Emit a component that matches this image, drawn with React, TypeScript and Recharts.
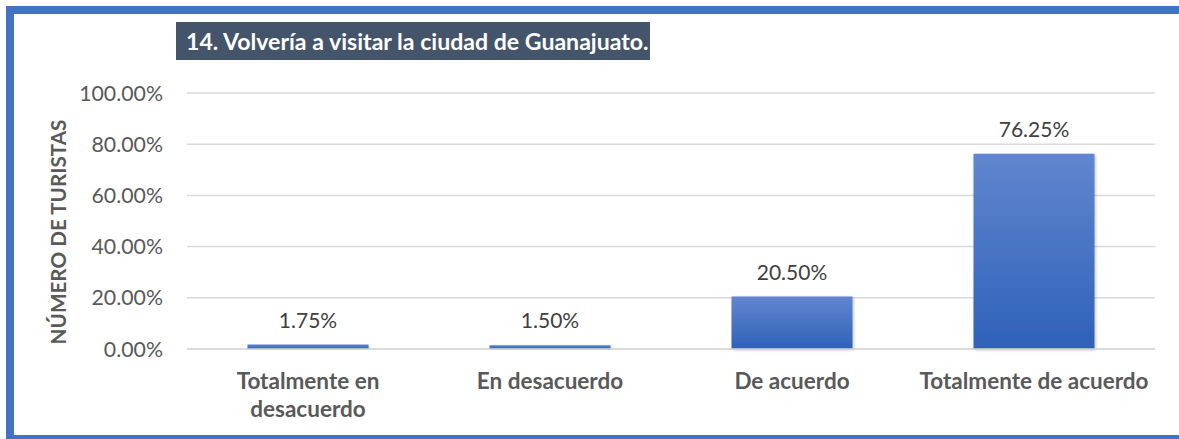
import { Bar, BarChart, CartesianGrid, LabelList, XAxis, YAxis } from "recharts";

const categories = [
  "Totalmente en desacuerdo",
  "En desacuerdo",
  "De acuerdo",
  "Totalmente de acuerdo",
];
// how each category label is broken over lines under the axis
const categoryLines = [
  ["Totalmente en", "desacuerdo"],
  ["En desacuerdo"],
  ["De acuerdo"],
  ["Totalmente de acuerdo"],
];
const shares = [1.75, 1.5, 20.5, 76.25];
const yTicks = [0, 20, 40, 60, 80, 100];

const title = "14. Volvería a visitar la ciudad de Guanajuato.";
const yTitle = "NÚMERO DE TURISTAS";

const rows = categories.map((name, i) => ({ name, value: shares[i], lines: categoryLines[i] }));

const FONT = "Lato, 'Open Sans', sans-serif";

function CategoryTick({ x, y, index }: any) {
  const lines = categoryLines[index] ?? [];
  return (
    <text
      x={x}
      y={y + 32}
      textAnchor="middle"
      fontFamily={FONT}
      fontSize={22.5}
      fontWeight={700}
      fill="#595959"
    >
      {lines.map((l: string, i: number) => (
        <tspan key={i} x={x} dy={i === 0 ? 0 : 28}>
          {l}
        </tspan>
      ))}
    </text>
  );
}

export default function App() {
  return (
    <div
      style={{
        position: "fixed",
        left: 0,
        top: 0,
        width: 1179,
        height: 439,
        overflow: "hidden",
        background: "#fff",
      }}
    >
      {/* blue frame, right edge is cut off in the original */}
      <div
        style={{
          position: "absolute",
          left: 6,
          top: 6,
          width: 1200,
          height: 421,
          border: "8px solid #4472C4",
          boxSizing: "content-box",
        }}
      />
      <div
        style={{
          position: "absolute",
          left: 176,
          top: 22,
          width: 474,
          height: 38,
          background: "#44546A",
          color: "#fff",
          fontFamily: FONT,
          fontWeight: 700,
          fontSize: 23.1,
          lineHeight: "38px",
          paddingLeft: 10,
          boxSizing: "border-box",
          whiteSpace: "nowrap",
        }}
      >
        {title}
      </div>
      <div style={{ position: "absolute", left: 0, top: 0 }}>
        <BarChart
          width={1179}
          height={439}
          data={rows}
          margin={{ top: 93, right: 24, bottom: 0, left: 0 }}
          barCategoryGap="25%"
        >
          <defs>
            <linearGradient id="barFill" x1="0" y1="0" x2="0" y2="1">
              <stop offset="0%" stopColor="#6186CF" />
              <stop offset="100%" stopColor="#2F61B9" />
            </linearGradient>
            <filter id="barShadow" x="-10%" y="-10%" width="120%" height="120%">
              <feDropShadow dx="1" dy="1" stdDeviation="1.5" floodColor="#000" floodOpacity="0.25" />
            </filter>
          </defs>
          <CartesianGrid vertical={false} stroke="#D9D9D9" strokeWidth={1.5} />
          <XAxis
            dataKey="name"
            tickLine={false}
            axisLine={{ stroke: "#D9D9D9", strokeWidth: 1.5 }}
            tick={<CategoryTick />}
            interval={0}
            height={90}
          />
          <YAxis
            domain={[0, 100]}
            ticks={yTicks}
            width={187}
            axisLine={false}
            tickLine={false}
            tickMargin={18}
            tick={{ fill: "#595959", fontSize: 21.3, fontFamily: FONT }}
            tickFormatter={(v: number) => `${v.toFixed(2)}%`}
            label={{
              content: () => (
                <text
                  x={58}
                  y={232}
                  transform="rotate(-90, 58, 232)"
                  textAnchor="middle"
                  dominantBaseline="central"
                  fontFamily={FONT}
                  fontSize={20.7}
                  fontWeight={700}
                  fill="#595959"
                >
                  {yTitle}
                </text>
              ),
            }}
          />
          <Bar dataKey="value" fill="url(#barFill)" filter="url(#barShadow)" isAnimationActive={false}>
            <LabelList
              dataKey="value"
              position="top"
              offset={17}
              formatter={(v: any) => `${Number(v).toFixed(2)}%`}
              style={{ fill: "#404040", fontSize: 21, fontFamily: FONT }}
            />
          </Bar>
        </BarChart>
      </div>
    </div>
  );
}
